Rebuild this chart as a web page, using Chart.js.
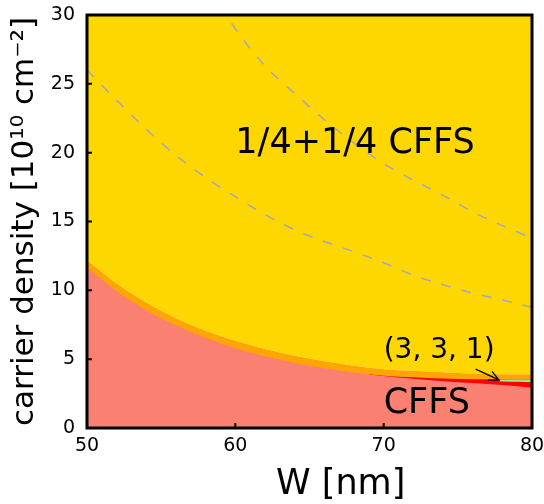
<!DOCTYPE html>
<html>
<head>
<meta charset="utf-8">
<script src="https://cdn.jsdelivr.net/npm/chart.js@4"></script>
<style>
  body { margin: 0; background: #fff; }
  #wrap { width: 544px; height: 504px; }
</style>
</head>
<body>
<div id="wrap"><canvas id="phaseChart" width="544" height="504"></canvas></div>
<script>
// W values (nm) where the region boundaries were read
const widths = [50, 52, 54, 56, 58, 60, 62, 64, 66, 68, 70, 72, 74, 76, 78, 80];
// upper edge of the orange band (start of the 1/4+1/4 CFFS region)
const orangeTop = [12.2, 10.49, 9.11, 7.98, 7.07, 6.33, 5.73, 5.24, 4.85, 4.53, 4.27, 4.15, 4.05, 3.96, 3.91, 3.9];
// upper edge of the CFFS region
const cffsTop = [11.64, 9.94, 8.56, 7.44, 6.54, 5.8, 5.21, 4.73, 4.34, 4.03, 3.77, 3.57, 3.4, 3.27, 3.12, 2.92];
// red band sitting on the CFFS region
const redW = [69, 70, 72, 74, 76, 78, 80];
const redTop = [3.9, 3.8, 3.68, 3.59, 3.54, 3.53, 3.53];
// (3, 3, 1) sliver
const tealW = [77.8, 78, 80];
const tealTop = [3.53, 3.53, 3.53];
const tealBottom = [3.4, 3.37, 3.32];
// dashed guide curves
const dashLowW = [50, 52, 54, 56, 58, 60, 62, 64, 66, 68, 70, 72, 74, 76, 78, 80];
const dashLow = [26.0, 23.8, 21.7, 19.8, 18.2, 16.8, 15.5, 14.4, 13.55, 12.8, 12.0, 11.1, 10.4, 9.8, 9.3, 8.75];
const dashHighW = [59, 60, 62, 64, 66, 68, 70, 72, 74, 76, 78, 80];
const dashHigh = [30.7, 29.0, 26.3, 24.3, 22.4, 20.7, 19.2, 18.0, 16.9, 15.7, 14.7, 13.8];
// axis ticks
const xTicks = [50, 60, 70, 80];
const yTicks = [0, 5, 10, 15, 20, 25, 30];

const FONT = 'DejaVu Sans';

function pts(xs, ys) {
    return xs.map((x, i) => ({ x: x, y: ys[i] }));
}

function area(label, xs, ys, color, fill, order) {
    return {
        label: label,
        data: pts(xs, ys),
        borderWidth: 0,
        borderColor: color,
        backgroundColor: color,
        pointRadius: 0,
        fill: fill,
        cubicInterpolationMode: 'monotone',
        order: order
    };
}

function dashed(label, xs, ys) {
    return {
        label: label,
        data: pts(xs, ys),
        borderColor: '#a4a7b8',
        borderWidth: 1.5,
        borderDash: [10, 11],
        pointRadius: 0,
        fill: false,
        cubicInterpolationMode: 'monotone',
        order: -1
    };
}

// frame, inward ticks and the text labels
const framePlugin = {
    id: 'frame',
    afterDatasetsDraw(chart) {
        const { ctx, chartArea: a, scales: { x, y } } = chart;
        ctx.save();
        ctx.strokeStyle = '#000';
        ctx.lineWidth = 2;
        ctx.beginPath();
        xTicks.forEach(v => {
            const px = x.getPixelForValue(v);
            ctx.moveTo(px, a.bottom);
            ctx.lineTo(px, a.bottom - 5);
        });
        yTicks.forEach(v => {
            const py = y.getPixelForValue(v);
            ctx.moveTo(a.left, py);
            ctx.lineTo(a.left + 5, py);
        });
        ctx.stroke();

        ctx.lineWidth = 3;
        ctx.strokeRect(a.left, a.top, a.width, a.height);

        // region labels
        ctx.fillStyle = '#000';
        ctx.textAlign = 'left';
        ctx.textBaseline = 'alphabetic';
        ctx.font = '35px "' + FONT + '"';
        ctx.fillText('1/4+1/4 CFFS', x.getPixelForValue(60.0), y.getPixelForValue(20.0));
        ctx.fillText('CFFS', x.getPixelForValue(70.0), y.getPixelForValue(1.1));
        ctx.font = '28px "' + FONT + '"';
        ctx.fillText('(3, 3, 1)', x.getPixelForValue(70.0), y.getPixelForValue(5.1));

        // arrow pointing at the (3,3,1) sliver
        const x0 = x.getPixelForValue(76.2), y0 = y.getPixelForValue(4.28);
        const x1 = x.getPixelForValue(77.77), y1 = y.getPixelForValue(3.49);
        const ang = Math.atan2(y1 - y0, x1 - x0);
        ctx.lineWidth = 1.3;
        ctx.beginPath();
        ctx.moveTo(x0, y0);
        ctx.lineTo(x1, y1);
        ctx.moveTo(x1 - 11 * Math.cos(ang - 0.45), y1 - 11 * Math.sin(ang - 0.45));
        ctx.lineTo(x1, y1);
        ctx.lineTo(x1 - 11 * Math.cos(ang + 0.45), y1 - 11 * Math.sin(ang + 0.45));
        ctx.stroke();

        // x axis title, sits a little right of centre in the original
        ctx.textAlign = 'center';
        ctx.textBaseline = 'middle';
        ctx.font = '35px "' + FONT + '"';
        ctx.fillText('W [nm]', x.getPixelForValue(67.1), a.bottom + 57);
        ctx.restore();
    }
};

const ctx = document.getElementById('phaseChart').getContext('2d');
new Chart(ctx, {
    type: 'line',
    data: {
        datasets: [
            area('CFFS', widths, cffsTop, '#fa8072', 'origin', 0),
            area('(3,3,1)', tealW, tealTop, '#90ee90', '+1', 1),
            area('(3,3,1) lower', tealW, tealBottom, 'rgba(0,0,0,0)', false, 1),
            area('red', redW, redTop, '#ff0000', 'origin', 2),
            area('orange', widths, orangeTop, '#ffa500', 'origin', 3),
            area('1/4+1/4 CFFS', widths, orangeTop, '#ffd700', 'end', 4),
            dashed('guide 1', dashLowW, dashLow),
            dashed('guide 2', dashHighW, dashHigh)
        ]
    },
    options: {
        responsive: false,
        animation: false,
        layout: { padding: { top: 15, right: 12, left: 0, bottom: 0 } },
        plugins: {
            legend: { display: false },
            tooltip: { enabled: false }
        },
        scales: {
            x: {
                type: 'linear',
                min: 50,
                max: 80,
                afterFit: s => { s.height = 76; s.paddingLeft = 0; s.paddingRight = 0; },
                afterBuildTicks: s => { s.ticks = xTicks.map(v => ({ value: v })); },
                grid: { display: false, drawTicks: false },
                border: { display: false },
                ticks: { color: '#000', padding: 7, font: { family: FONT, size: 19 } },
                title: { display: false }
            },
            y: {
                type: 'linear',
                min: 0,
                max: 30,
                afterFit: s => { s.width = 87; s.paddingTop = 0; s.paddingBottom = 0; },
                afterBuildTicks: s => { s.ticks = yTicks.map(v => ({ value: v })); },
                grid: { display: false, drawTicks: false },
                border: { display: false },
                ticks: { color: '#000', padding: 12, font: { family: FONT, size: 19 } },
                title: {
                    display: true,
                    text: 'carrier density [10¹⁰ cm⁻²]',
                    color: '#000',
                    padding: { top: 6, bottom: 0 },
                    font: { family: FONT, size: 31 }
                }
            }
        }
    },
    plugins: [framePlugin]
});
</script>
</body>
</html>
